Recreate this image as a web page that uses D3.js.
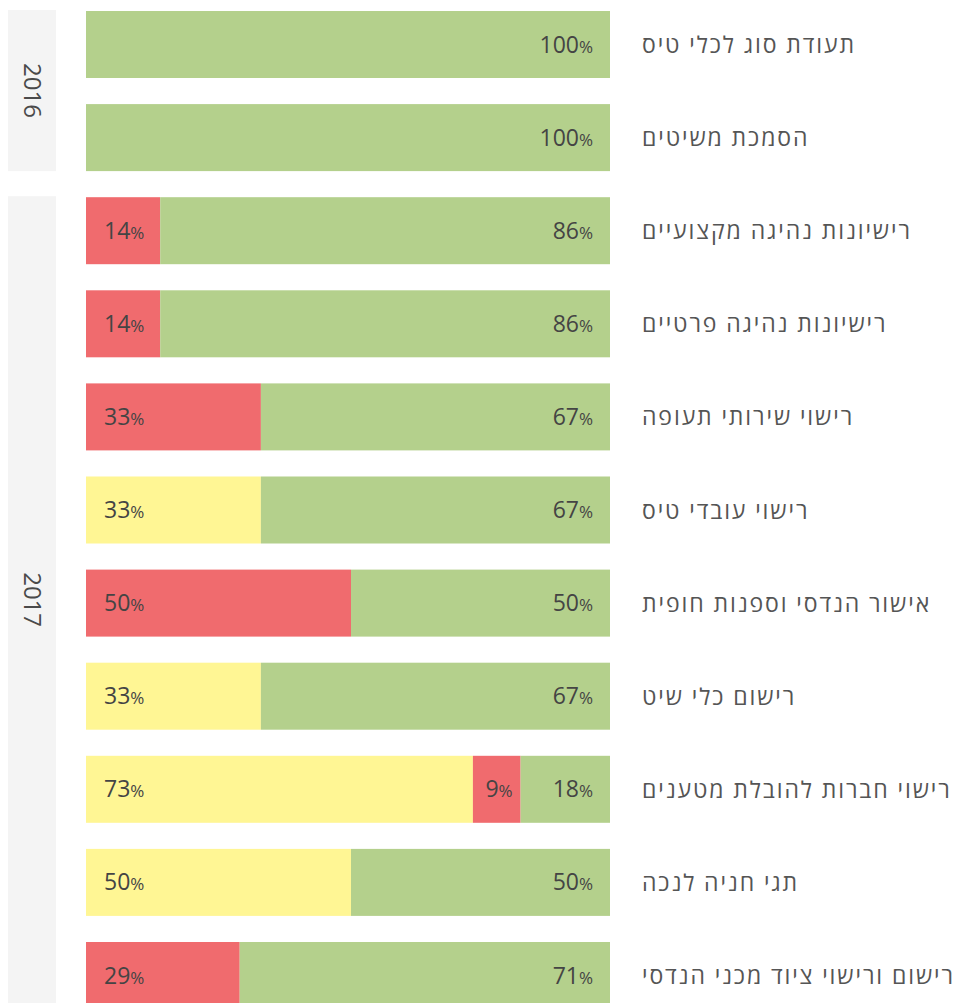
<!DOCTYPE html>
<html><head><meta charset="utf-8">
<script src="https://cdn.jsdelivr.net/npm/d3@7"></script>
<style>
html,body{margin:0;padding:0;background:#fff;overflow:hidden;}
svg{display:block;font-family:"Open Sans","DejaVu Sans",sans-serif;}
</style></head>
<body>
<svg id="chart" width="957" height="1003"></svg>
<script>
const categories = [
  "תעודת סוג לכלי טיס",
  "הסמכת משיטים",
  "רישיונות נהיגה מקצועיים",
  "רישיונות נהיגה פרטיים",
  "רישוי שירותי תעופה",
  "רישוי עובדי טיס",
  "אישור הנדסי וספנות חופית",
  "רישום כלי שיט",
  "רישוי חברות להובלת מטענים",
  "תגי חניה לנכה",
  "רישום ורישוי ציוד מכני הנדסי"
];
const years = ["2016","2016","2017","2017","2017","2017","2017","2017","2017","2017","2017"];
const yellowValues = [0, 0, 0, 0, 0, 33, 0, 33, 73, 50, 0];
const redValues    = [0, 0, 14, 14, 33, 0, 50, 0, 9, 0, 29];
const greenValues  = [100, 100, 86, 86, 67, 67, 50, 67, 18, 50, 71];
const seriesKeys = ["yellow","red","green"];
const seriesColors = {yellow:"#fff694", red:"#f06b6e", green:"#b4d08c"};

const rows = categories.map((c,i)=>({cat:c, year:years[i], yellow:yellowValues[i], red:redValues[i], green:greenValues[i]}));

const svg = d3.select("#chart");
const plotLeft = 86, plotRight = 610;
const x = d3.scaleLinear().domain([0,100]).range([plotLeft, 616]);
const bw = 67, pitch = 93.1;
const yTop = c => 11 + categories.indexOf(c)*pitch;

svg.append("clipPath").attr("id","plotclip").append("rect")
  .attr("x",plotLeft).attr("y",0).attr("width",plotRight-plotLeft).attr("height",1003);

// year group boxes
const groups = d3.groups(rows, d=>d.year);
groups.forEach(([yr, items])=>{
  const t = yTop(items[0].cat) - 1;
  const b = Math.min(yTop(items[items.length-1].cat) + bw, 1003);
  svg.append("rect").attr("x",8).attr("y",t).attr("width",48).attr("height",b-t).attr("fill","#f4f4f4");
  const cy = (t+b)/2;
  svg.append("text").attr("transform",`translate(32,${cy}) rotate(90)`)
    .attr("text-anchor","middle").attr("dy","0.35em")
    .attr("font-size",24).attr("fill","#4a4a4a").text(yr);
});

const stack = d3.stack().keys(seriesKeys)(rows);
const barsG = svg.append("g").attr("clip-path","url(#plotclip)");
stack.forEach(layer=>{
  const key = layer.key;
  layer.forEach((d,i)=>{
    const v = d[1]-d[0];
    if (v<=0) return;
    const top = yTop(rows[i].cat);
    barsG.append("rect").attr("x",x(d[0])).attr("y",top).attr("width",x(d[1])-x(d[0])).attr("height",bw).attr("fill",seriesColors[key]);
  });
});

// value labels
rows.forEach((r,i)=>{
  const segs = [];
  let acc = 0;
  seriesKeys.forEach(k=>{ if(r[k]>0){ segs.push({k, v:r[k], x0:acc, x1:acc+r[k]}); } acc += r[k]; });
  const top = yTop(r.cat);
  segs.forEach((s,j)=>{
    let tx, anchor;
    if (segs.length>1 && j===0){ tx = x(s.x0)+18; anchor="start"; }
    else if (j===segs.length-1){ tx = plotRight-17; anchor="end"; }
    else { tx = x(s.x1)-8; anchor="end"; }
    const t = svg.append("text").attr("x",tx).attr("y",top+bw/2+8).attr("text-anchor",anchor)
      .attr("fill","#444").attr("font-size",23);
    t.append("tspan").text(s.v);
    t.append("tspan").attr("font-size",17).text("%");
  });
  svg.append("text").attr("x",642).attr("y",top+bw/2+8.5).attr("text-anchor","start")
    .attr("fill","#555").attr("font-size",23).attr("letter-spacing",1.9).text(r.cat);
});
</script>
</body></html>
